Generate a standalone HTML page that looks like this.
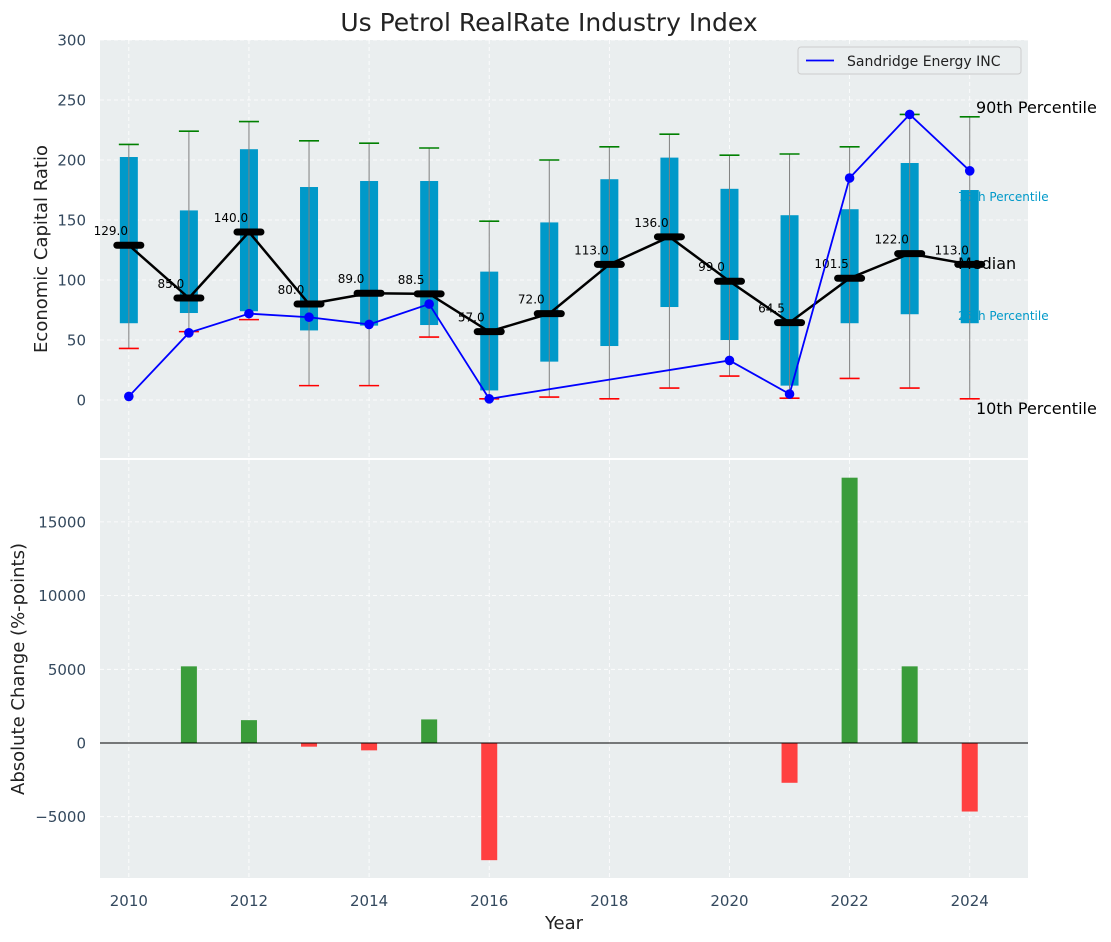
<!DOCTYPE html>
<html><head><meta charset="utf-8"><style>
html,body{margin:0;padding:0;background:#fff;}
svg{display:block;font-family:"DejaVu Sans","Liberation Sans",sans-serif;}
</style></head><body>
<svg id="chart" width="1111" height="942" xmlns="http://www.w3.org/2000/svg"></svg>
<script>
const years=[2010,2011,2012,2013,2014,2015,2016,2017,2018,2019,2020,2021,2022,2023,2024];
const p90=[213,224,232,216,214,210,149,200,211,221.5,204,205,211,238,236];
const q3=[202.5,158,209,177.5,182.5,182.5,107,148,184,202,176,154,159,197.5,175];
const medians=[129,85,140,80,89,88.5,57,72,113,136,99,64.5,101.5,122,113];
const q1=[64,72.5,74,58,62,62.5,8,32,45,77.5,50,12,64,71.5,64];
const p10=[43,57,67,12,12,52.5,1,2.5,1,10,20,1.5,18,10,1];
const company=[3,56,72,69,63,80,1,null,null,null,33,5,185,238,191];
const changes=[0,5200,1550,-250,-500,1600,-7950,0,0,0,0,-2700,18000,5200,-4650];
const topTicks=[0,50,100,150,200,250,300];
const botTicks=[-5000,0,5000,10000,15000];
const xTicks=[2010,2012,2014,2016,2018,2020,2022,2024];

const NS='http://www.w3.org/2000/svg';
const svg=document.getElementById('chart');
function el(tag,attrs,parent){const e=document.createElementNS(NS,tag);for(const k in attrs)e.setAttribute(k,attrs[k]);(parent||svg).appendChild(e);return e;}
const L=100,R=1028,T1=40,B1=458,T2=460,B2=878;
const xs=y=>L+(y-2009.52)/(2024.97-2009.52)*(R-L);
const y1=v=>B1-(v-(-48.3))/(300-(-48.3))*(B1-T1);
const y2=v=>B2-(v-(-9160))/(19200-(-9160))*(B2-T2);

let e=el('rect',{x:L,y:T1,width:R-L,height:B1-T1,fill:'#eaeeef'});

e=el('rect',{x:L,y:T2,width:R-L,height:B2-T2,fill:'#eaeeef'});


xTicks.forEach(t=>{
  el('line',{x1:xs(t),x2:xs(t),y1:T1,y2:B1,stroke:'#fff','stroke-dasharray':'4,3','stroke-width':0.8});
  el('line',{x1:xs(t),x2:xs(t),y1:T2,y2:B2,stroke:'#fff','stroke-dasharray':'4,3','stroke-width':0.8});
});
topTicks.forEach(t=>{
  el('line',{x1:L,x2:R,y1:y1(t),y2:y1(t),stroke:'#fff','stroke-dasharray':'4,3','stroke-width':0.8});
  const tx=el('text',{x:L-14,y:y1(t)+5.5,'text-anchor':'end','font-size':15,fill:'#34495e'});tx.textContent=t;
  
});
botTicks.forEach(t=>{
  el('line',{x1:L,x2:R,y1:y2(t),y2:y2(t),stroke:'#fff','stroke-dasharray':'4,3','stroke-width':0.8});
  const tx=el('text',{x:L-14,y:y2(t)+5.5,'text-anchor':'end','font-size':15,fill:'#34495e'});tx.textContent=(t<0?'\u2212'+(-t):t);
  
});
xTicks.forEach(t=>{
  const tx=el('text',{x:xs(t),y:906,'text-anchor':'middle','font-size':15,fill:'#34495e'});tx.textContent=t;
  
});

years.forEach((yr,i)=>{
  const x=xs(yr);
  const b=el('rect',{x:x-9,y:y1(q3[i]),width:18,height:y1(q1[i])-y1(q3[i]),fill:'#0099c9'});
  
  el('line',{x1:x,x2:x,y1:y1(p90[i]),y2:y1(p10[i]),stroke:'#808080','stroke-width':1});
  el('line',{x1:x-10,x2:x+10,y1:y1(p90[i]),y2:y1(p90[i]),stroke:'green','stroke-width':1.6});
  el('line',{x1:x-10,x2:x+10,y1:y1(p10[i]),y2:y1(p10[i]),stroke:'red','stroke-width':1.6});
});
let d=years.map((yr,i)=>(i?'L':'M')+xs(yr)+','+y1(medians[i])).join(' ');
e=el('path',{d:d,fill:'none',stroke:'#000','stroke-width':2.5});

years.forEach((yr,i)=>{
  const x=xs(yr),y=y1(medians[i]);
  const m=el('line',{x1:x-12,x2:x+12,y1:y,y2:y,stroke:'#000','stroke-width':7,'stroke-linecap':'round'});
  
  const t=el('text',{x:x-18,y:y-10,'text-anchor':'middle','font-size':12,fill:'#000'});t.textContent=medians[i].toFixed(1);
  
});
const pts=years.map((yr,i)=>company[i]==null?null:[xs(yr),y1(company[i])]).filter(p=>p);
e=el('path',{d:pts.map((p,i)=>(i?'L':'M')+p[0]+','+p[1]).join(' '),fill:'none',stroke:'#0000ff','stroke-width':1.8});

pts.forEach(p=>{const c=el('circle',{cx:p[0],cy:p[1],r:4.8,fill:'#0000ff'});
  });

[['90th Percentile',976,113,16,'#000'],['75th Percentile',958,201,12,'#0099c9'],['Median',958,269,16,'#000'],['25th Percentile',958,320,12,'#0099c9'],['10th Percentile',976,414,16,'#000']].forEach(a=>{
  const t=el('text',{x:a[1],y:a[2],'font-size':a[3],fill:a[4]});t.textContent=a[0];
  
});

const lg=el('g',{});
el('rect',{x:798,y:47,width:223,height:27,rx:3,fill:'#eaeeef',stroke:'#ccc','stroke-width':1},lg);
el('line',{x1:806,x2:834,y1:60.5,y2:60.5,stroke:'#0000ff','stroke-width':1.8},lg);
e=el('text',{x:847,y:66,'font-size':14,fill:'#222'},lg);e.textContent='Sandridge Energy INC';

years.forEach((yr,i)=>{
  const v=changes[i];if(!v)return;
  const b=el('rect',{x:xs(yr)-8,y:Math.min(y2(v),y2(0)),width:16,height:Math.abs(y2(v)-y2(0)),fill:v>0?'#3a9c3a':'#ff4040'});
  
});
el('line',{x1:L,x2:R,y1:y2(0),y2:y2(0),stroke:'#000','stroke-width':1});

e=el('text',{x:549,y:31,'text-anchor':'middle','font-size':25,fill:'#222'});e.textContent='Us Petrol RealRate Industry Index';

e=el('text',{x:0,y:0,'text-anchor':'middle','font-size':18,fill:'#222',transform:'translate(47,249) rotate(-90)'});e.textContent='Economic Capital Ratio';

e=el('text',{x:0,y:0,'text-anchor':'middle','font-size':18,fill:'#222',transform:'translate(24,669) rotate(-90)'});e.textContent='Absolute Change (%-points)';

e=el('text',{x:564,y:929,'text-anchor':'middle','font-size':18,fill:'#222'});e.textContent='Year';

</script>
</body></html>
